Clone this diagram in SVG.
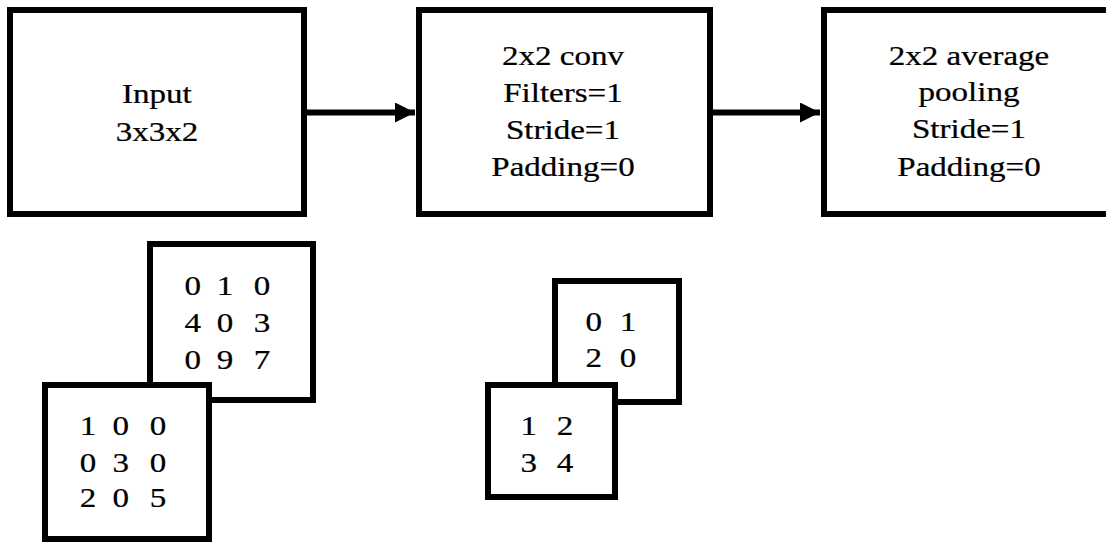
<svg xmlns="http://www.w3.org/2000/svg" width="1106" height="544" viewBox="0 0 1106 544">
<style>
.box{fill:#fff;stroke:#000;stroke-width:6}
.t{font-family:"Liberation Serif","Times New Roman",serif;font-size:28px;fill:#000;stroke:#000;stroke-width:0.25;text-anchor:middle}
.conn{stroke:#000;stroke-width:6;fill:none}
</style>
<defs>
<marker id="ah" markerUnits="userSpaceOnUse" markerWidth="20" markerHeight="20" viewBox="0 0 19 19" refX="19" refY="9.5" orient="auto">
<polygon points="0,0 19,9.5 0,19" fill="#000"/>
</marker>
</defs>
<rect width="1106" height="544" fill="#fff"/>
<g id="connectors">
<line class="conn" x1="307" y1="112.5" x2="415" y2="112.5" marker-end="url(#ah)"/>
<line class="conn" x1="713" y1="112.5" x2="820" y2="112.5" marker-end="url(#ah)"/>
</g>
<g id="input">
<rect class="box" x="10" y="10" width="294" height="204"/>
<g transform="scale(1.18,1)"><text class="t"><tspan x="133" y="103">Input</tspan><tspan x="133" y="141">3x3x2</tspan></text></g>
</g>
<g id="conv">
<rect class="box" x="419" y="10" width="291" height="204"/>
<g transform="scale(1.18,1)"><text class="t"><tspan x="477.1" y="65">2x2 conv</tspan><tspan x="477.1" y="102">Filters=1</tspan><tspan x="477.1" y="139">Stride=1</tspan><tspan x="477.1" y="176">Padding=0</tspan></text></g>
</g>
<g id="pool">
<rect class="box" x="824" y="10" width="300" height="204"/>
<g transform="scale(1.18,1)"><text class="t"><tspan x="821.2" y="65">2x2 average</tspan><tspan x="821.2" y="101">pooling</tspan><tspan x="821.2" y="138">Stride=1</tspan><tspan x="821.2" y="176">Padding=0</tspan></text></g>
</g>
<g id="input-channel-2">
<rect class="box" x="150" y="244" width="163" height="156"/>
<g transform="scale(1.18,1)">
<text class="t" y="295"><tspan x="166.9">0</tspan> <tspan x="194.1">1</tspan> <tspan x="222">0</tspan></text>
<text class="t" y="332"><tspan x="166.9">4</tspan> <tspan x="194.1">0</tspan> <tspan x="222">3</tspan></text>
<text class="t" y="369"><tspan x="166.9">0</tspan> <tspan x="194.1">9</tspan> <tspan x="222">7</tspan></text>
</g>
</g>
<g id="input-channel-1">
<rect class="box" x="45" y="385" width="164" height="154"/>
<g transform="scale(1.18,1)">
<text class="t" y="435"><tspan x="78">1</tspan> <tspan x="105.9">0</tspan> <tspan x="133.9">0</tspan></text>
<text class="t" y="472"><tspan x="78">0</tspan> <tspan x="105.9">3</tspan> <tspan x="133.9">0</tspan></text>
<text class="t" y="507"><tspan x="78">2</tspan> <tspan x="105.9">0</tspan> <tspan x="133.9">5</tspan></text>
</g>
</g>
<g id="filter-channel-2">
<rect class="box" x="555" y="281" width="124" height="121"/>
<g transform="scale(1.18,1)">
<text class="t" y="331"><tspan x="506.8">0</tspan> <tspan x="532.2">1</tspan></text>
<text class="t" y="367"><tspan x="506.8">2</tspan> <tspan x="532.2">0</tspan></text>
</g>
</g>
<g id="filter-channel-1">
<rect class="box" x="488" y="385" width="127" height="112"/>
<g transform="scale(1.18,1)">
<text class="t" y="435"><tspan x="451.7">1</tspan> <tspan x="478.8">2</tspan></text>
<text class="t" y="472"><tspan x="451.7">3</tspan> <tspan x="478.8">4</tspan></text>
</g>
</g>
</svg>
